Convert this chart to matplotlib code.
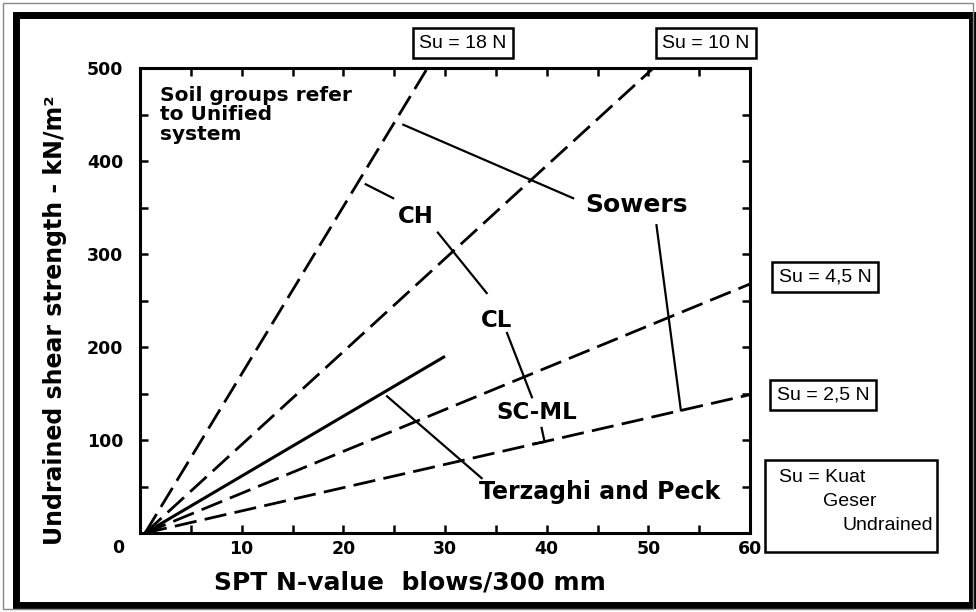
import matplotlib
matplotlib.use("Agg")
import matplotlib.pyplot as plt
from matplotlib.patches import Rectangle
import numpy as np

# ---------------- data ----------------
su_ratios = [18, 10, 4.5, 2.5]                      # Su = k * N  (kN/m^2)
su_labels = ["Su = 18 N", "Su = 10 N", "Su = 4,5 N", "Su = 2,5 N"]
n_origin = 0.5                                       # lines fan out from here
n_max = 60

tp_N = [0.5, 30]                                     # Terzaghi and Peck (solid)
tp_Su = [0, 190]

x_ticks = [0, 10, 20, 30, 40, 50, 60]
x_ticklabels = ["", "10", "20", "30", "40", "50", "60"]
y_ticks = [0, 100, 200, 300, 400, 500]
y_ticklabels = ["", "100", "200", "300", "400", "500"]

# leader lines (N, Su)
leader_lines = [
    ([25.9, 42.6], [439, 360]),          # Sowers -> 18N line
    ([50.8, 53.2], [331, 132]),          # Sowers -> 2.5N line
    ([22.2, 24.9], [375, 360]),          # 18N line -> CH
    ([29.3, 34.1], [323, 258]),          # CH -> CL
    ([36.1, 38.55], [215, 146]),         # CL -> SC-ML
    ([39.5, 39.8, 38.7], [113, 98, 96]), # SC-ML -> 2.5N line
    ([24.3, 33.6], [147, 59]),           # Terzaghi and Peck
]
group_labels = ["CH", "CL", "SC-ML"]
group_pos = [(27.1, 340), (35.1, 229), (39.0, 130)]

# ---------------- figure ----------------
W, H = 976, 612
fig = plt.figure(figsize=(W / 100, H / 100), dpi=100)
fig.patch.set_facecolor("white")

def fx(px):
    return px / W

def fy(py):
    return 1 - py / H

ax = fig.add_axes([fx(140), fy(533), 610 / W, 465 / H])
ax.set_xlim(0, 60)
ax.set_ylim(0, 500)

bold = dict(family="DejaVu Sans", fontweight="bold")

n = np.array([n_origin, n_max])
for k in su_ratios:
    ax.plot(n, k * (n - n_origin), color="black", lw=2.0, dashes=(8, 3),
            dash_capstyle="butt", solid_capstyle="butt")
ax.plot(tp_N, tp_Su, color="black", lw=2.2, solid_capstyle="butt")

for xs, ys in leader_lines:
    ax.plot(xs, ys, color="black", lw=1.6)

for lab, (gx, gy) in zip(group_labels, group_pos):
    ax.text(gx, gy, lab, ha="center", va="center", fontsize=16.5, **bold)

ax.text(2.0, 481, "Soil groups refer\nto Unified\nsystem", ha="left", va="top",
        fontsize=14.5, linespacing=1.05, **bold)
ax.text(48.8, 353, "Sowers", ha="center", va="center", fontsize=18, **bold)
ax.text(45.2, 44, "Terzaghi and Peck", ha="center", va="center", fontsize=17, **bold)

# axes styling
for s in ax.spines.values():
    s.set_linewidth(2.2)
ax.set_xticks(x_ticks)
ax.set_xticklabels(x_ticklabels, fontsize=12.5, **bold)
ax.set_yticks(y_ticks)
ax.set_yticklabels(y_ticklabels, fontsize=12.5, **bold)
ax.set_xticks(np.arange(5, 60, 10), minor=True)
ax.set_yticks(np.arange(50, 500, 100), minor=True)
ax.tick_params(which="both", direction="in", top=True, right=True,
               length=6, width=1.8)
ax.tick_params(axis="x", pad=5)
ax.tick_params(axis="y", pad=12)
ax.text(-0.035, -0.032, "0", transform=ax.transAxes, ha="center", va="center",
        fontsize=12.5, **bold)

ax.set_xlabel("SPT N-value  blows/300 mm", fontsize=18, **bold)
ax.xaxis.set_label_coords((410 - 140) / 610, (533 - 583) / 465)
ax.set_ylabel("Undrained shear strength - kN/m\u00b2", fontsize=17, **bold)
ax.yaxis.set_label_coords((55 - 140) / 610, (533 - 320) / 465)
ax.xaxis.label.set_va("center")
ax.yaxis.label.set_va("center")

# Su boxes outside the axes
box_centres = [(463, 43), (706, 43), (825, 277), (823, 395)]
for lab, (bx, by) in zip(su_labels, box_centres):
    fig.text(fx(bx), fy(by), lab, ha="center", va="center", fontsize=14,
             family="Liberation Sans",
             bbox=dict(boxstyle="square,pad=0.35", fc="white", ec="black", lw=1.8))

# Kuat Geser Undrained box
fig.add_artist(Rectangle((fx(765), fy(552)), (937 - 765) / W, (552 - 460) / H,
                         transform=fig.transFigure, fill=False, ec="black", lw=1.8))
fig.text(fx(779), fy(478), "Su = Kuat", ha="left", va="center", fontsize=14,
         family="Liberation Sans")
fig.text(fx(823), fy(502), "Geser", ha="left", va="center", fontsize=14,
         family="Liberation Sans")
fig.text(fx(933), fy(526), "Undrained", ha="right", va="center", fontsize=14,
         family="Liberation Sans")

# outer frame of the scanned figure
fig.add_artist(Rectangle((fx(16), fy(605)), (972 - 16) / W, (605 - 15) / H,
                         transform=fig.transFigure, fill=False, ec="black", lw=5))
fig.add_artist(Rectangle((fx(3), fy(609)), (973 - 3) / W, (609 - 3) / H,
                         transform=fig.transFigure, fill=False, ec="#888888", lw=1))

fig.savefig("out.png", dpi=100, facecolor="white")
